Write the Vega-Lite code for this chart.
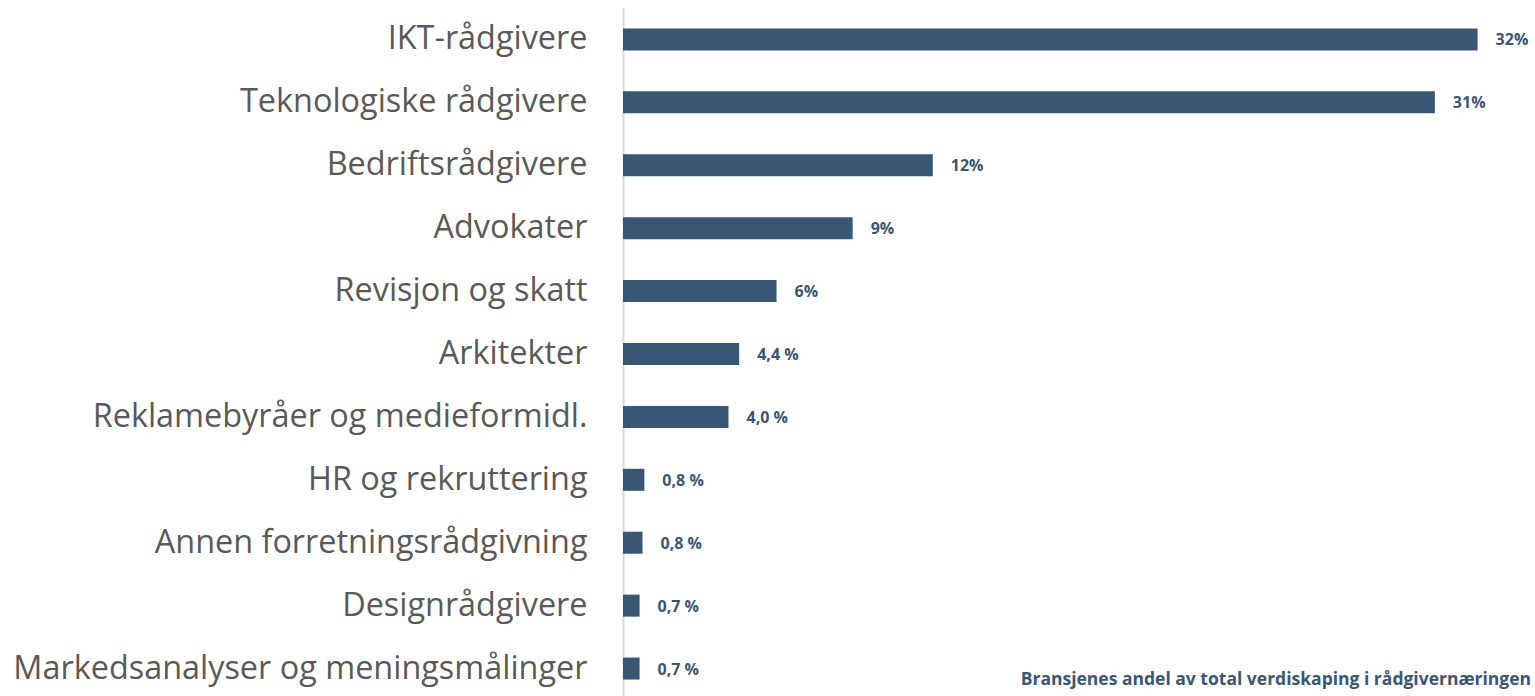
{
  "$schema": "https://vega.github.io/schema/vega-lite/v6.json",
  "autosize": {"type": "none"},
  "padding": {"left": 623, "top": 8, "right": 0, "bottom": 0},
  "width": 908,
  "height": 692,
  "background": "white",
  "title": {
    "text": "Bransjenes andel av total verdiskaping i rådgivernæringen",
    "orient": "bottom",
    "anchor": "end",
    "offset": -29,
    "font": "Open Sans",
    "fontSize": 17.5,
    "fontWeight": "bold",
    "color": "#3A5675"
  },
  "data": {
    "values": [
      {"bransje": "IKT-rådgivere", "andel": 32.0, "label": "32%"},
      {"bransje": "Teknologiske rådgivere", "andel": 30.4, "label": "31%"},
      {"bransje": "Bedriftsrådgivere", "andel": 11.6, "label": "12%"},
      {"bransje": "Advokater", "andel": 8.6, "label": "9%"},
      {"bransje": "Revisjon og skatt", "andel": 5.75, "label": "6%"},
      {"bransje": "Arkitekter", "andel": 4.35, "label": "4,4 %"},
      {"bransje": "Reklamebyråer og medieformidl.", "andel": 3.95, "label": "4,0 %"},
      {"bransje": "HR og rekruttering", "andel": 0.8, "label": "0,8 %"},
      {"bransje": "Annen forretningsrådgivning", "andel": 0.73, "label": "0,8 %"},
      {"bransje": "Designrådgivere", "andel": 0.62, "label": "0,7 %"},
      {"bransje": "Markedsanalyser og meningsmålinger", "andel": 0.62, "label": "0,7 %"}
    ]
  },
  "encoding": {
    "y": {
      "field": "bransje",
      "type": "nominal",
      "sort": null,
      "scale": {"paddingInner": 0.65, "paddingOuter": 0.325},
      "axis": {
        "title": null,
        "ticks": false,
        "labelFont": "Open Sans",
        "labelFontSize": 32.4,
        "labelColor": "#595959",
        "labelPadding": 36,
        "labelLimit": 800,
        "domainColor": "#D9D9D9",
        "domainWidth": 2,
        "grid": false
      }
    },
    "x": {
      "field": "andel",
      "type": "quantitative",
      "scale": {"domain": [0, 34], "nice": false},
      "axis": null
    }
  },
  "layer": [
    {"mark": {"type": "bar", "color": "#3A5675"}},
    {
      "mark": {"type": "text", "align": "left", "dx": 18, "dy": 1, "font": "Open Sans", "fontSize": 16, "fontWeight": "bold", "color": "#3A5675"},
      "encoding": {"text": {"field": "label"}}
    }
  ],
  "config": {"view": {"stroke": null}}
}
